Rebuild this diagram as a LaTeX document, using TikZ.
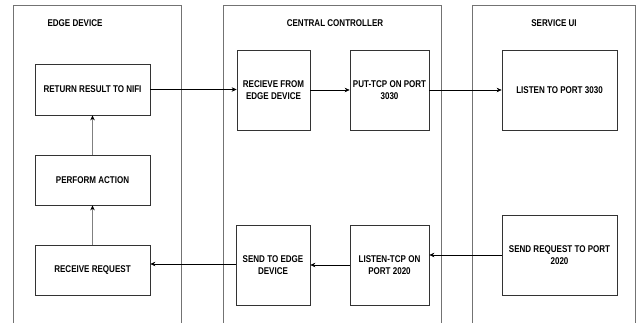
\documentclass[tikz,border=0pt]{standalone}
\usepackage{fontspec}
\setmainfont{Liberation Sans}[FakeStretch=0.82]
\usetikzlibrary{arrows.meta}
\tikzset{
  cont/.style={draw=black!55, line width=0.7pt},
  proc/.style={draw=black!80, line width=0.7pt, fill=white, align=center, inner sep=0pt, font=\bfseries\fontsize{9.8}{12.5}\selectfont},
  ttl/.style={font=\bfseries\fontsize{9.8}{12}\selectfont, inner sep=0pt},
  arr/.style={line width=0.6pt, -{Stealth[length=5pt,width=4.5pt]}},
  garr/.style={draw=black!50, line width=0.8pt, -{Stealth[length=5pt,width=4.5pt,black]}}
}
\begin{document}
\begin{tikzpicture}[x=1pt,y=-1pt]
\useasboundingbox (0,0) rectangle (639,323);
% containers (open at bottom)
\draw[cont] (13,330) -- (13,5) -- (181,5) -- (181,330);
\draw[cont] (223,330) -- (223,5) -- (441,5) -- (441,330);
\draw[cont] (472,330) -- (472,5) -- (635,5) -- (635,330);
\node[ttl] (t1) at (75,23) {EDGE DEVICE};
\node[ttl] (t2) at (335,23) {CENTRAL CONTROLLER};
\node[ttl] (t3) at (554,23) {SERVICE UI};
% edge device
\node[proc, minimum width=115pt, minimum height=51pt] (ret) at (92.5,89.5) {RETURN RESULT TO NIFI};
\node[proc, minimum width=115pt, minimum height=50pt] (perf) at (92.5,180) {PERFORM ACTION};
\node[proc, minimum width=115pt, minimum height=50pt] (recv) at (92.5,270) {RECEIVE REQUEST};
% central
\node[proc, minimum width=73pt, minimum height=80pt] (rfe) at (273.5,90) {RECIEVE FROM\\EDGE DEVICE};
\node[proc, minimum width=79pt, minimum height=80pt] (put) at (389.5,90) {PUT-TCP ON PORT\\3030};
\node[proc, minimum width=74pt, minimum height=80pt] (send) at (273,265) {SEND TO EDGE\\DEVICE};
\node[proc, minimum width=79pt, minimum height=80pt] (lis) at (389.5,265) {LISTEN-TCP ON\\PORT 2020};
% service ui
\node[proc, minimum width=115pt, minimum height=80pt] (l3030) at (559.5,90) {LISTEN TO PORT 3030};
\node[proc, minimum width=115pt, minimum height=80pt] (sreq) at (559.5,255) {SEND REQUEST TO PORT\\2020};
% connectors
\draw[garr] (recv.north) -- (perf.south);
\draw[garr] (perf.north) -- (ret.south);
\draw[arr] (ret.east) -- (ret.east -| rfe.west);
\draw[arr] (rfe.east) -- (put.west);
\draw[arr] (put.east) -- (put.east -| l3030.west);
\draw[arr] (sreq.west) -- (sreq.west -| lis.east);
\draw[arr] (lis.west) -- (send.east);
\draw[arr] ([yshift=1pt]send.west) -- ([yshift=1pt]send.west -| recv.east);
\end{tikzpicture}
\end{document}
